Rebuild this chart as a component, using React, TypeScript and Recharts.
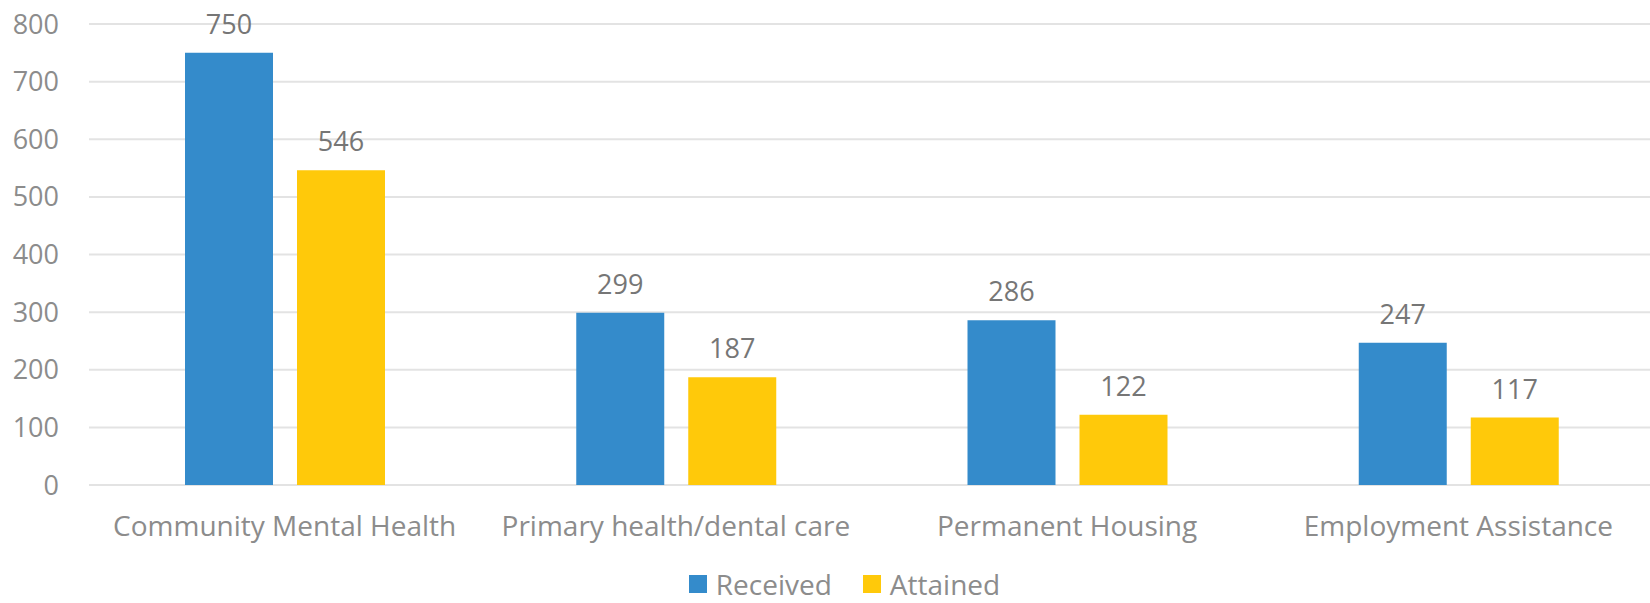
import { Bar, BarChart, CartesianGrid, LabelList, Legend, XAxis, YAxis } from "recharts";

const categories = ["Community Mental Health", "Primary health/dental care", "Permanent Housing", "Employment Assistance"];
const received = [750, 299, 286, 247];
const attained = [546, 187, 122, 117];
const yTicks = [0, 100, 200, 300, 400, 500, 600, 700, 800];

const data = categories.map((name, i) => ({ name, received: received[i], attained: attained[i] }));

const FONT = "'Open Sans', sans-serif";
const BLUE = "#348bcb";
const YELLOW = "#ffc90a";

function LegendBox() {
  const item = (color: string, label: string) => (
    <div style={{ display: "flex", alignItems: "center", marginRight: 31 }}>
      <div style={{ width: 18, height: 18, background: color, marginRight: 9 }} />
      <span style={{ fontSize: 28, lineHeight: "24px", color: "#8c8c8c", fontFamily: FONT }}>{label}</span>
    </div>
  );
  return (
    <div style={{ display: "flex", justifyContent: "center", paddingLeft: 66, height: 24 }}>
      {item(BLUE, "Received")}
      {item(YELLOW, "Attained")}
    </div>
  );
}

export default function App() {
  return (
    <div style={{ position: "fixed", top: 0, left: 0, width: 1650, height: 603, overflow: "hidden", background: "#fff" }}>
      <BarChart
        width={1654}
        height={603}
        data={data}
        margin={{ top: 24, right: 0, left: 0, bottom: 0 }}
        barSize={88}
        barGap={24}
      >
        <CartesianGrid vertical={false} stroke="#e3e3e3" strokeWidth={2} />
        <XAxis
          dataKey="name"
          axisLine={false}
          tickLine={false}
          tickSize={0}
          tickMargin={31}
          height={94}
          interval={0}
          tick={{ fill: "#8c8c8c", fontSize: 28, fontFamily: FONT }}
        />
        <YAxis
          domain={[0, 800]}
          ticks={yTicks}
          axisLine={false}
          tickLine={false}
          tickSize={0}
          tickMargin={30}
          width={89}
          interval={0}
          tick={{ fill: "#8c8c8c", fontSize: 27, fontFamily: FONT }}
        />
        <Legend verticalAlign="bottom" content={() => <LegendBox />} wrapperStyle={{ bottom: 7 }} />
        <Bar dataKey="received" name="Received" fill={BLUE} isAnimationActive={false}>
          <LabelList dataKey="received" position="top" offset={19} fill="#767676" fontSize={27} fontFamily={FONT} />
        </Bar>
        <Bar dataKey="attained" name="Attained" fill={YELLOW} isAnimationActive={false}>
          <LabelList dataKey="attained" position="top" offset={19} fill="#767676" fontSize={27} fontFamily={FONT} />
        </Bar>
      </BarChart>
    </div>
  );
}
